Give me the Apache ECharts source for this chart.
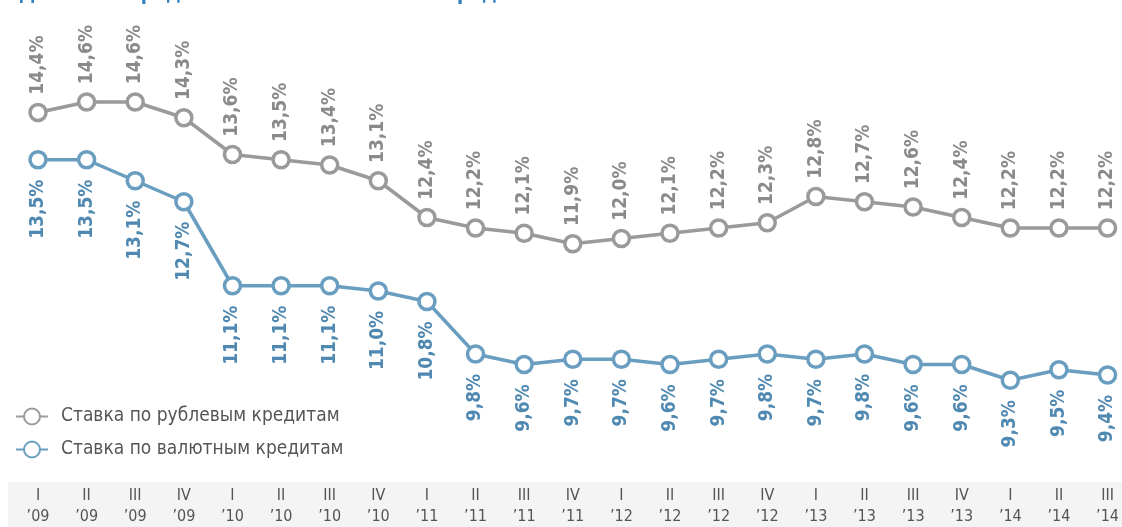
<!DOCTYPE html>
<html>
<head>
<meta charset="utf-8">
<script src="https://cdn.jsdelivr.net/npm/echarts@6/dist/echarts.min.js"></script>
<style>
  html, body { margin: 0; padding: 0; background: #fff; }
  #chart { width: 1122px; height: 527px; }
</style>
</head>
<body>
<div id="chart"></div>
<script>
const quarters = ['I', 'II', 'III', 'IV', 'I', 'II', 'III', 'IV', 'I', 'II', 'III', 'IV',
  'I', 'II', 'III', 'IV', 'I', 'II', 'III', 'IV', 'I', 'II', 'III'];
const years = ['09', '09', '09', '09', '10', '10', '10', '10', '11', '11', '11', '11',
  '12', '12', '12', '12', '13', '13', '13', '13', '14', '14', '14'];

const rubleRate = [14.4, 14.6, 14.6, 14.3, 13.6, 13.5, 13.4, 13.1, 12.4, 12.2, 12.1, 11.9,
  12.0, 12.1, 12.2, 12.3, 12.8, 12.7, 12.6, 12.4, 12.2, 12.2, 12.2];
const currencyRate = [13.5, 13.5, 13.1, 12.7, 11.1, 11.1, 11.1, 11.0, 10.8, 9.8, 9.6, 9.7,
  9.7, 9.6, 9.7, 9.8, 9.7, 9.8, 9.6, 9.6, 9.3, 9.5, 9.4];

const grey = '#9a9a9a';
const blue = '#6a9ec0';
const font = 'DejaVu Sans Condensed';

const fmt = p => p.value.toFixed(1).replace('.', ',') + '%';

const chart = echarts.init(document.getElementById('chart'));

chart.setOption({
  animation: false,
  title: {
    text: 'Динамика средневзвешенной ставки по кредитам',
    left: 14,
    top: -20,
    textStyle: { color: '#2f7fbf', fontSize: 20, fontWeight: 'bold', fontFamily: font }
  },
  graphic: [{
    type: 'rect',
    shape: { x: 8, y: 482, width: 1114, height: 45 },
    style: { fill: '#f4f4f4' },
    z: -1
  }],
  legend: {
    orient: 'vertical',
    left: 10,
    top: 402,
    itemWidth: 32,
    itemHeight: 20,
    itemGap: 14,
    textStyle: { color: '#555', fontSize: 19, fontFamily: font, padding: [0, 0, 0, 8] },
    data: ['Ставка по рублевым кредитам', 'Ставка по валютным кредитам']
  },
  grid: { left: 38, right: 14, top: 81, bottom: 130 },
  xAxis: {
    type: 'category',
    boundaryGap: false,
    data: quarters.map((q, i) => q + '\n\u2019' + years[i]),
    axisLine: { show: false },
    axisTick: { show: false },
    axisLabel: {
      margin: 89,
      interval: 0,
      color: '#555',
      fontSize: 16,
      lineHeight: 21,
      fontFamily: font
    }
  },
  yAxis: {
    type: 'value',
    min: 9,
    max: 15,
    show: false
  },
  series: [
    {
      name: 'Ставка по рублевым кредитам',
      type: 'line',
      data: rubleRate,
      symbol: 'circle',
      symbolSize: 16,
      showAllSymbol: true,
      color: grey,
      lineStyle: { width: 3.5, color: grey },
      itemStyle: { color: '#fff', borderColor: grey, borderWidth: 3.5 },
      label: {
        show: true,
        position: 'top',
        rotate: 90,
        align: 'left',
        verticalAlign: 'middle',
        distance: 8,
        color: '#8a8a8a',
        fontSize: 19,
        fontWeight: 'bold',
        fontFamily: font,
        formatter: fmt
      }
    },
    {
      name: 'Ставка по валютным кредитам',
      type: 'line',
      data: currencyRate,
      symbol: 'circle',
      symbolSize: 16,
      showAllSymbol: true,
      color: blue,
      lineStyle: { width: 3.5, color: blue },
      itemStyle: { color: '#fff', borderColor: blue, borderWidth: 3.5 },
      label: {
        show: true,
        position: 'bottom',
        rotate: 90,
        align: 'right',
        verticalAlign: 'middle',
        distance: 10,
        color: '#4f88b0',
        fontSize: 19,
        fontWeight: 'bold',
        fontFamily: font,
        formatter: fmt
      }
    }
  ]
});
</script>
</body>
</html>
